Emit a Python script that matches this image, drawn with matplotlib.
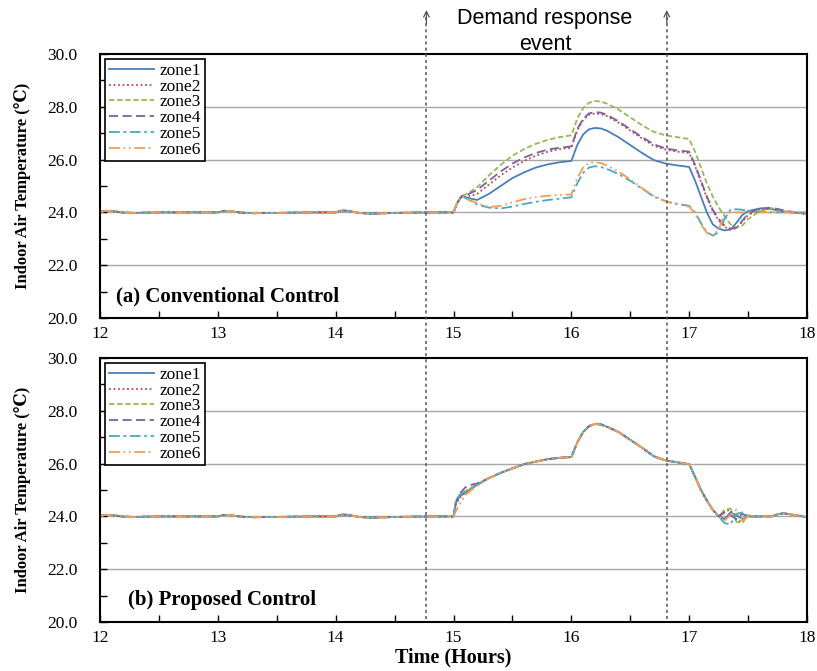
import numpy as np
import matplotlib
matplotlib.use('Agg')
import matplotlib.pyplot as plt
from matplotlib.ticker import MultipleLocator
from matplotlib.lines import Line2D
import matplotlib.transforms as mtransforms

plt.rcParams['font.family'] = ['Liberation Serif', 'DejaVu Serif']

# baseline (12h-15h), shared by all zones
t_base = [12.0, 12.05, 12.1, 12.2, 12.3, 12.5, 12.8, 13.0, 13.05, 13.1, 13.2, 13.3, 13.5,
          13.8, 14.0, 14.05, 14.1, 14.2, 14.3, 14.5, 14.8]
base = [24.02, 24.06, 24.05, 23.99, 23.98, 24.0, 24.0, 24.0, 24.06, 24.05, 23.99, 23.97, 23.98,
        24.0, 24.0, 24.07, 24.06, 23.98, 23.95, 23.98, 24.0]

# (a) conventional control, 15h-18h
t_a = [15.0, 15.03, 15.07, 15.12, 15.2, 15.3, 15.4, 15.5, 15.6, 15.7, 15.8, 15.9, 16.0,
       16.05, 16.1, 16.15, 16.2, 16.25, 16.3, 16.4, 16.5, 16.6, 16.7, 16.8, 16.9, 17.0,
       17.05, 17.1, 17.15, 17.2, 17.25, 17.3, 17.35, 17.4, 17.45, 17.5, 17.6, 17.7, 17.8,
       17.9, 18.0]
a_zone1 = [24.0, 24.35, 24.62, 24.55, 24.47, 24.7, 25.0, 25.3, 25.52, 25.7, 25.82, 25.9, 25.95,
           26.55, 26.95, 27.15, 27.2, 27.18, 27.1, 26.85, 26.55, 26.25, 25.98, 25.85, 25.78, 25.72,
           25.2, 24.6, 24.0, 23.55, 23.38, 23.32, 23.35, 23.6, 23.9, 24.05, 24.15, 24.12, 24.02,
           23.98, 23.97]
a_zone2 = [24.0, 24.35, 24.6, 24.6, 24.7, 25.05, 25.4, 25.7, 25.95, 26.15, 26.3, 26.4, 26.45,
           27.1, 27.5, 27.7, 27.75, 27.72, 27.65, 27.4, 27.1, 26.8, 26.52, 26.38, 26.3, 26.25,
           25.75, 25.15, 24.55, 24.05, 23.7, 23.45, 23.35, 23.4, 23.65, 23.9, 24.12, 24.15, 24.05,
           23.98, 23.95]
a_zone3 = [24.0, 24.35, 24.62, 24.72, 24.95, 25.4, 25.8, 26.15, 26.4, 26.6, 26.75, 26.85, 26.92,
           27.55, 27.95, 28.15, 28.22, 28.2, 28.12, 27.9, 27.6, 27.3, 27.05, 26.92, 26.85, 26.78,
           26.3, 25.7, 25.1, 24.6, 24.2, 23.85, 23.55, 23.42, 23.5, 23.75, 24.05, 24.15, 24.05,
           23.98, 23.95]
a_zone4 = [24.0, 24.35, 24.62, 24.68, 24.85, 25.2, 25.55, 25.85, 26.08, 26.25, 26.38, 26.45, 26.5,
           27.15, 27.55, 27.75, 27.8, 27.78, 27.7, 27.45, 27.15, 26.85, 26.58, 26.42, 26.35, 26.3,
           25.8, 25.2, 24.6, 24.1, 23.75, 23.5, 23.38, 23.42, 23.68, 23.95, 24.15, 24.18, 24.08,
           24.0, 23.95]
a_zone5 = [24.0, 24.35, 24.62, 24.5, 24.3, 24.18, 24.15, 24.22, 24.32, 24.4, 24.47, 24.52, 24.57,
           25.1, 25.5, 25.7, 25.75, 25.72, 25.65, 25.45, 25.2, 24.9, 24.6, 24.42, 24.32, 24.25,
           24.0, 23.6, 23.25, 23.12, 23.25, 23.75, 24.1, 24.12, 24.1, 24.05, 24.02, 24.0, 24.0,
           24.0, 24.0]
a_zone6 = [24.0, 24.35, 24.62, 24.5, 24.35, 24.2, 24.25, 24.38, 24.5, 24.58, 24.63, 24.66, 24.68,
           25.3, 25.7, 25.88, 25.9, 25.87, 25.78, 25.55, 25.25, 24.92, 24.62, 24.42, 24.3, 24.22,
           23.95, 23.55, 23.22, 23.12, 23.35, 23.95, 24.0, 24.0, 24.0, 24.0, 24.0, 24.0, 24.0,
           24.0, 23.98]

# (b) proposed control, 15h-18h
t_b = [15.0, 15.02, 15.05, 15.1, 15.15, 15.2, 15.3, 15.4, 15.5, 15.6, 15.7, 15.8, 15.9, 16.0,
       16.05, 16.1, 16.15, 16.2, 16.25, 16.3, 16.4, 16.5, 16.6, 16.7, 16.8, 16.9, 17.0,
       17.05, 17.1, 17.15, 17.2, 17.25, 17.3, 17.35, 17.4, 17.45, 17.5, 17.55, 17.6, 17.7,
       17.75, 17.8, 17.9, 18.0]
b_zone1 = [24.0, 24.5, 24.75, 24.9, 25.05, 25.2, 25.45, 25.65, 25.82, 25.98, 26.08, 26.17, 26.22, 26.25,
           26.8, 27.2, 27.42, 27.5, 27.48, 27.4, 27.2, 26.9, 26.6, 26.28, 26.12, 26.05, 25.98,
           25.5, 25.0, 24.6, 24.25, 24.0, 23.9, 24.15, 24.05, 23.9, 24.0, 24.0, 24.0, 24.0,
           24.08, 24.12, 24.05, 23.97]
b_zone2 = [24.0, 24.45, 24.7, 24.9, 25.05, 25.2, 25.45, 25.65, 25.82, 25.98, 26.08, 26.17, 26.22, 26.25,
           26.8, 27.2, 27.42, 27.5, 27.48, 27.4, 27.2, 26.9, 26.6, 26.28, 26.12, 26.05, 25.98,
           25.5, 25.0, 24.6, 24.25, 24.0, 24.2, 24.25, 23.85, 23.8, 24.0, 24.0, 24.0, 24.0,
           24.08, 24.12, 24.05, 23.97]
b_zone3 = [24.0, 24.5, 24.8, 24.95, 25.1, 25.22, 25.45, 25.65, 25.82, 25.98, 26.08, 26.17, 26.22, 26.25,
           26.8, 27.2, 27.42, 27.5, 27.48, 27.4, 27.2, 26.9, 26.6, 26.28, 26.12, 26.05, 25.98,
           25.5, 25.0, 24.6, 24.25, 24.0, 24.25, 24.3, 23.8, 23.75, 24.05, 24.0, 24.0, 24.0,
           24.08, 24.12, 24.05, 23.97]
b_zone4 = [24.0, 24.55, 24.85, 25.1, 25.2, 25.25, 25.45, 25.65, 25.82, 25.98, 26.08, 26.17, 26.22, 26.25,
           26.8, 27.2, 27.42, 27.52, 27.5, 27.4, 27.2, 26.9, 26.6, 26.28, 26.12, 26.05, 25.98,
           25.5, 25.0, 24.6, 24.25, 24.0, 24.15, 24.05, 23.9, 24.1, 24.0, 24.0, 24.0, 24.0,
           24.08, 24.12, 24.05, 23.97]
b_zone5 = [24.0, 24.6, 24.8, 24.95, 25.05, 25.2, 25.45, 25.65, 25.82, 25.98, 26.08, 26.17, 26.22, 26.25,
           26.8, 27.2, 27.42, 27.5, 27.48, 27.4, 27.2, 26.9, 26.6, 26.28, 26.12, 26.05, 25.98,
           25.5, 25.0, 24.6, 24.25, 24.0, 23.75, 23.7, 24.1, 24.15, 24.0, 24.0, 24.0, 24.0,
           24.08, 24.12, 24.05, 23.97]
b_zone6 = [24.0, 24.2, 24.45, 24.8, 25.0, 25.15, 25.45, 25.65, 25.82, 25.98, 26.08, 26.17, 26.22, 26.25,
           26.8, 27.2, 27.42, 27.5, 27.48, 27.4, 27.2, 26.9, 26.6, 26.28, 26.12, 26.05, 25.98,
           25.5, 25.0, 24.6, 24.25, 24.0, 23.85, 24.05, 24.25, 23.85, 24.0, 24.0, 24.0, 24.0,
           24.08, 24.12, 24.05, 23.97]

zones = ['zone1', 'zone2', 'zone3', 'zone4', 'zone5', 'zone6']
dr_start, dr_end = 14.77, 16.81

colors = ['#4a7ebb', '#be4b48', '#98b954', '#7d60a0', '#46aac5', '#f59d56']
styles = ['-', (0, (1, 1.5)), (0, (3, 1.5)), (0, (5, 2.5)), (0, (6, 2, 1.5, 2)), (0, (6, 2, 1, 2, 1, 2))]

fig = plt.figure(figsize=(8.17, 6.71), dpi=100)
ax1 = fig.add_axes([0.1224, 0.5261, 0.8654, 0.3934])
ax2 = fig.add_axes([0.1224, 0.0730, 0.8654, 0.3934])

panels = [(ax1, t_a, [a_zone1, a_zone2, a_zone3, a_zone4, a_zone5, a_zone6], '(a) Conventional Control', 0.023),
          (ax2, t_b, [b_zone1, b_zone2, b_zone3, b_zone4, b_zone5, b_zone6], '(b) Proposed Control', 0.040)]

for ax, t_ev, series, label, lx in panels:
    t = t_base + t_ev
    for i, vals in enumerate(series):
        ax.plot(t, base + vals, color=colors[i], linestyle=styles[i], lw=1.3, label=zones[i])
    ax.set_xlim(12, 18)
    ax.set_ylim(20, 30)
    ax.xaxis.set_major_locator(MultipleLocator(1))
    ax.xaxis.set_minor_locator(MultipleLocator(0.5))
    ax.yaxis.set_major_locator(MultipleLocator(2))
    ax.yaxis.set_minor_locator(MultipleLocator(1))
    ax.yaxis.set_major_formatter(plt.FormatStrFormatter('%.1f'))
    ax.tick_params(axis='both', which='both', direction='in', length=5, width=1, labelsize=12.5)
    ax.tick_params(axis='y', which='both', pad=16)
    ax.tick_params(axis='x', which='both', pad=6)
    for y in [22, 24, 26, 28]:
        ax.axhline(y, color='#a8a8a8', lw=1, zorder=0)
    for s in ax.spines.values():
        s.set_linewidth(1.5)
    ax.set_ylabel('Indoor Air Temperature (℃)', fontsize=12, fontweight='bold', labelpad=12)
    ax.text(lx, 0.083, label, transform=ax.transAxes, fontsize=15, fontweight='bold', va='center')
    leg = ax.legend(loc='upper left', fontsize=12.5, frameon=True, fancybox=False, edgecolor='black',
                    handlelength=2.6, handletextpad=0.35, labelspacing=-0.02, borderpad=0.2,
                    borderaxespad=0.3, framealpha=1)
    leg.get_frame().set_linewidth(1.2)

ax2.set_xlabel('Time (Hours)', fontsize=14.5, fontweight='bold', labelpad=1)

# demand response markers across both panels
blend = mtransforms.blended_transform_factory(ax1.transData, fig.transFigure)
for x in [dr_start, dr_end]:
    fig.add_artist(Line2D([x, x], [0.0775, 0.978], transform=blend, color='#555555',
                          lw=1.1, linestyle=(0, (2, 2))))
    ax1.annotate('', xy=(x, 0.985), xycoords=blend, xytext=(x, 0.965), textcoords=blend,
                 arrowprops=dict(arrowstyle='->', color='#555555', lw=0.9, shrinkA=0, shrinkB=0))

fig.text(0.667, 0.953, 'Demand response\nevent', ha='center', va='center', fontsize=15.5,
         family=['Liberation Sans', 'DejaVu Sans'], linespacing=1.3)

fig.savefig('out.png', dpi=100)
